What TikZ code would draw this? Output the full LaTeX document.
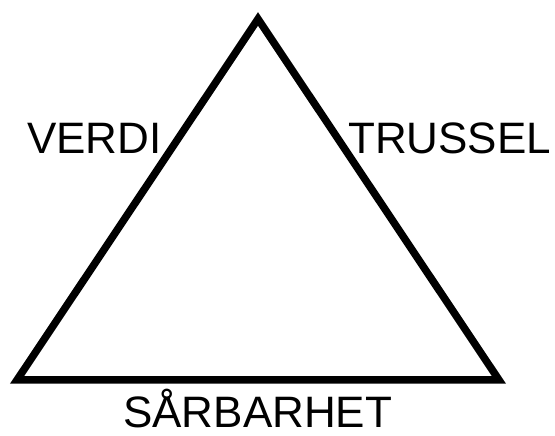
\documentclass[tikz,border=0pt]{standalone}
\usepackage{fontspec}
\setmainfont{Liberation Sans}
\usepackage{tikz}

\begin{document}
\begin{tikzpicture}[x=1pt,y=1pt,
    edge/.style={line width=7.5pt, line join=miter},
    word/.style={anchor=base west, inner sep=0pt, font=\fontsize{44}{48}\selectfont}]
  \useasboundingbox (0,0) rectangle (555,436);
  % corners of the triangle
  \coordinate (top) at (258,417);
  \coordinate (left) at (17,56);
  \coordinate (right) at (499,56);
  \draw[edge] (top) -- (left) -- (right) -- cycle;
  % labels
  \node[word] (verdi) at (27,282) {VERDI};
  \node[word] (trussel) at (348,282) {TRUSSEL};
  \node[word] (sarbarhet) at (123,8) {SÅRBARHET};
\end{tikzpicture}
\end{document}
